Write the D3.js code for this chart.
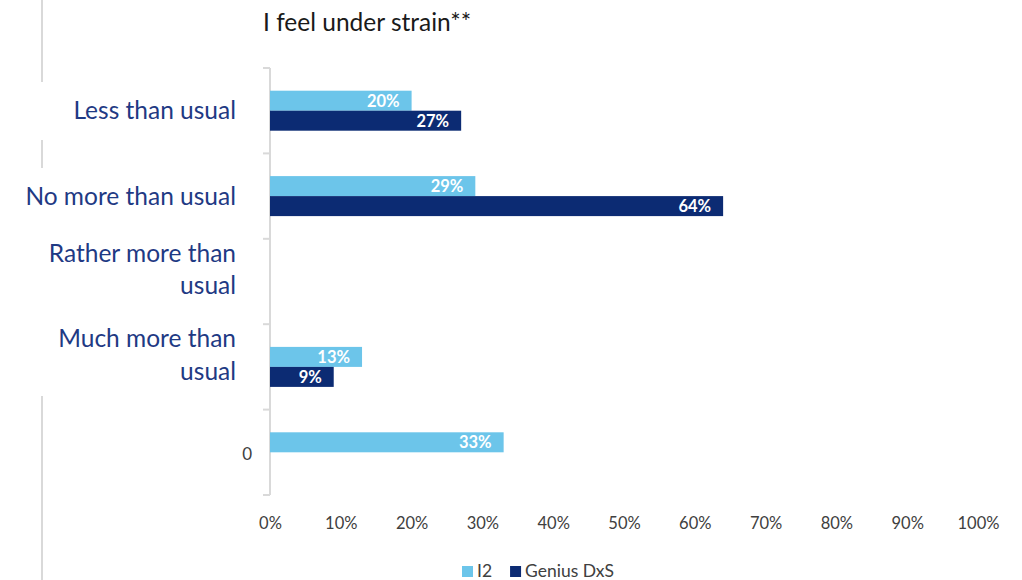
<!DOCTYPE html>
<html>
<head>
<meta charset="utf-8">
<script src="https://cdn.jsdelivr.net/npm/d3@7"></script>
<style>
  html, body { margin: 0; padding: 0; background: #fff; }
  svg { display: block; font-family: Lato, "Open Sans", sans-serif; }
</style>
</head>
<body>
<svg id="chart" width="1022" height="580"></svg>
<script>
// Survey answers to "I feel under strain"
const categories = [["Less than usual"], ["No more than usual"], ["Rather more than", "usual"], ["Much more than", "usual"], ["0"]];
const categoryKeys = ["Less than usual", "No more than usual", "Rather more than usual", "Much more than usual", "0"];
const seriesNames = ["I2", "Genius DxS"];
const i2Values = [20, 29, null, 13, 33];
const geniusValues = [27, 64, null, 9, null];
const xTicks = [0, 10, 20, 30, 40, 50, 60, 70, 80, 90, 100];
const title = "I feel under strain**";

const colors = { "I2": "#6CC5EA", "Genius DxS": "#0C2B73" };
const svg = d3.select("#chart");

// slide frame fragments on the left
const frame = svg.append("g").attr("stroke", "#d9d9d9").attr("stroke-width", 2);
[[0, 82], [140, 168], [396, 580]].forEach(([a, b]) =>
  frame.append("line").attr("x1", 42).attr("x2", 42).attr("y1", a).attr("y2", b));

const x = d3.scaleLinear().domain([0, 100]).range([270, 978]);
const y = d3.scaleBand().domain(categoryKeys).range([68, 495]).padding(0);
const barH = 20;
const y1 = d3.scaleBand().domain(seriesNames)
  .range([(y.bandwidth() - 2 * barH) / 2, (y.bandwidth() + 2 * barH) / 2]);

// title
svg.append("text").attr("x", 263).attr("y", 31)
  .attr("font-size", 24.5).attr("fill", "#1a1a1a").text(title);

// category axis line and ticks
const axisG = svg.append("g");
axisG.append("line").attr("x1", 270).attr("x2", 270).attr("y1", 68).attr("y2", 495)
  .attr("stroke", "#d9d9d9").attr("stroke-width", 2);
const bounds = categoryKeys.map(k => y(k)).concat([y.range()[1]]);
axisG.selectAll("line.tick").data(bounds).join("line").attr("class", "tick")
  .attr("x1", 263).attr("x2", 270).attr("y1", d => d).attr("y2", d => d)
  .attr("stroke", "#d9d9d9").attr("stroke-width", 2);

// category labels
categoryKeys.forEach((k, i) => {
  const lines = categories[i];
  const isZero = k === "0";
  const fs = isZero ? 17 : 24.5;
  const lh = 32.5;
  const cy = y(k) + y.bandwidth() / 2;
  const shift = isZero ? 2 : (lines.length > 1 ? -12 : 0);
  const t = svg.append("text")
    .attr("text-anchor", "end")
    .attr("font-size", fs)
    .attr("fill", isZero ? "#404040" : "#1F3A84");
  lines.forEach((ln, j) => {
    t.append("tspan").attr("x", isZero ? 252 : 236)
      .attr("y", cy + (j - (lines.length - 1) / 2) * lh + shift)
      .attr("dy", "0.35em").text(ln);
  });
});

// bars
const rows = [];
categoryKeys.forEach((k, i) => {
  [[seriesNames[0], i2Values[i]], [seriesNames[1], geniusValues[i]]].forEach(([s, v]) => {
    if (v != null) rows.push({ cat: k, series: s, value: v });
  });
});

const bars = svg.append("g");
bars.selectAll("rect").data(rows).join("rect")
  .attr("x", x(0))
  .attr("y", d => y(d.cat) + y1(d.series))
  .attr("width", d => x(d.value) - x(0))
  .attr("height", y1.bandwidth())
  .attr("fill", d => colors[d.series]);

bars.selectAll("text").data(rows).join("text")
  .attr("x", d => x(d.value) - 12)
  .attr("y", d => y(d.cat) + y1(d.series) + y1.bandwidth() / 2)
  .attr("dy", "0.36em")
  .attr("text-anchor", "end")
  .attr("font-size", 16.5).attr("font-weight", "bold")
  .attr("fill", "#fff")
  .text(d => d.value + "%");

// value axis labels
const xAxis = d3.axisBottom(x).tickValues(xTicks).tickSize(0).tickPadding(0)
  .tickFormat(d => d + "%");
const xg = svg.append("g").attr("transform", "translate(0,517)").call(xAxis);
xg.select(".domain").remove();
xg.selectAll("text").attr("font-size", 16.5).attr("fill", "#404040")
  .attr("font-family", "Lato, 'Open Sans', sans-serif");

// legend
const legend = svg.append("g").attr("transform", "translate(462,571)");
let lx = 0;
seriesNames.forEach(s => {
  legend.append("rect").attr("x", lx).attr("y", -5).attr("width", 11).attr("height", 11)
    .attr("fill", colors[s]);
  const t = legend.append("text").attr("x", lx + 15).attr("y", 0).attr("dy", "0.35em")
    .attr("font-size", 17.5).attr("fill", "#404040").text(s);
  lx += 15 + t.node().getComputedTextLength() + 18;
});
</script>
</body>
</html>
